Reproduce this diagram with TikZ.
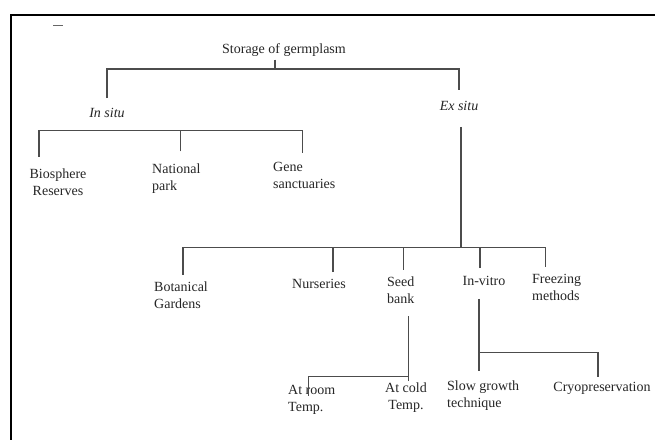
\documentclass[tikz,border=0pt]{standalone}
\usepackage{fontspec}
\setmainfont{Liberation Serif}
\begin{document}
\begin{tikzpicture}[x=1pt,y=-1pt,
  lbl/.style={inner sep=0pt, font=\fontsize{14}{17}\selectfont, text=black!85},
  conn/.style={draw=black!70, line width=1.1pt},
]
\useasboundingbox (0,0) rectangle (655,439);
\fill[white] (0,0) rectangle (655,439);
\draw[line width=2.2pt] (11,440) -- (11,15) -- (656,15);
\draw[black!60, line width=0.8pt] (53,25) -- (63,25);

% nodes
\node[lbl] (storage) at (284,50) {Storage of germplasm};
\node[lbl, font=\fontsize{14}{17}\selectfont\itshape] (insitu) at (107,113) {In situ};
\node[lbl, font=\fontsize{14}{17}\selectfont\itshape] (exsitu) at (459,106) {Ex situ};
\node[lbl, align=center] (bio) at (58,182.5) {Biosphere\\Reserves};
\node[lbl, align=left, anchor=west] (natl) at (152,178.5) {National\\park};
\node[lbl, align=left, anchor=west] (gene) at (273,175.5) {Gene\\sanctuaries};
\node[lbl, align=left, anchor=west] (bot) at (154,295.5) {Botanical\\Gardens};
\node[lbl] (nurs) at (319,284) {Nurseries};
\node[lbl, align=left, anchor=west] (seed) at (387,290.5) {Seed\\bank};
\node[lbl] (invitro) at (484,281) {In-vitro};
\node[lbl, align=left, anchor=west] (freez) at (532,287) {Freezing\\methods};
\node[lbl, align=left, anchor=west] (room) at (288,399.5) {At room\\Temp.};
\node[lbl, align=center] (cold) at (406,398) {At cold\\Temp.};
\node[lbl, align=left, anchor=west] (slow) at (447,396) {Slow growth\\technique};
\node[lbl] (cryo) at (602,388) {Cryopreservation};

% root split
\coordinate (r) at ([xshift=-9pt]storage.south |- 0,69);
\draw[conn] ([xshift=-9pt,yshift=-3pt]storage.south) -- (r);
\draw[conn] ([yshift=10pt]insitu.north) |- (r) -| ([yshift=11pt]exsitu.north);

% in situ children
\path ([xshift=-19pt,yshift=12pt]bio.north) coordinate (bioT) ++(0,-26) coordinate (b1);
\coordinate (natlT) at ([xshift=4pt,yshift=12pt]natl.north);
\coordinate (geneT) at ([xshift=-2pt,yshift=9pt]gene.north);
\draw[conn] (bioT) -- (b1) -| (geneT);
\draw[conn] (natlT) -- (natlT |- b1);

% ex situ children
\path ([xshift=2pt,yshift=-16pt]exsitu.south) coordinate (exB) ++(0,121) coordinate (b2);
\draw[conn] (exB) -- (b2);
\coordinate (botT) at ([xshift=2pt,yshift=7pt]bot.north);
\coordinate (nursT) at ([xshift=14pt,yshift=7pt]nurs.north);
\coordinate (seedT) at ([xshift=2.4pt,yshift=7pt]seed.north);
\coordinate (ivT) at ([xshift=-4pt,yshift=8pt]invitro.north);
\coordinate (frT) at ([xshift=-11.5pt,yshift=7pt]freez.north);
\draw[conn] (botT) |- (b2) -| (frT);
\draw[conn] (nursT) -- (nursT |- b2);
\draw[conn] (seedT) -- (seedT |- b2);
\draw[conn] (ivT) -- (ivT |- b2);

% seed bank children
\path ([xshift=7.4pt,yshift=-12pt]seed.south) coordinate (sb) ++(0,60) coordinate (b3);
\coordinate (coldT) at ([xshift=2pt,yshift=2pt]cold.north);
\coordinate (roomT) at ([xshift=-3.5pt,yshift=-11pt]room.north);
\draw[conn] (sb) -- (sb |- coldT);
\draw[conn] (b3) -| (roomT);

% in-vitro children
\path ([xshift=-5pt,yshift=-13pt]invitro.south) coordinate (iv) ++(0,54) coordinate (b4);
\coordinate (slowT) at ([xshift=-5pt,yshift=10pt]slow.north);
\coordinate (cryoT) at ([xshift=-4pt,yshift=5pt]cryo.north);
\draw[conn] (iv) -- (iv |- slowT);
\draw[conn] (b4) -| (cryoT);
\end{tikzpicture}
\end{document}
